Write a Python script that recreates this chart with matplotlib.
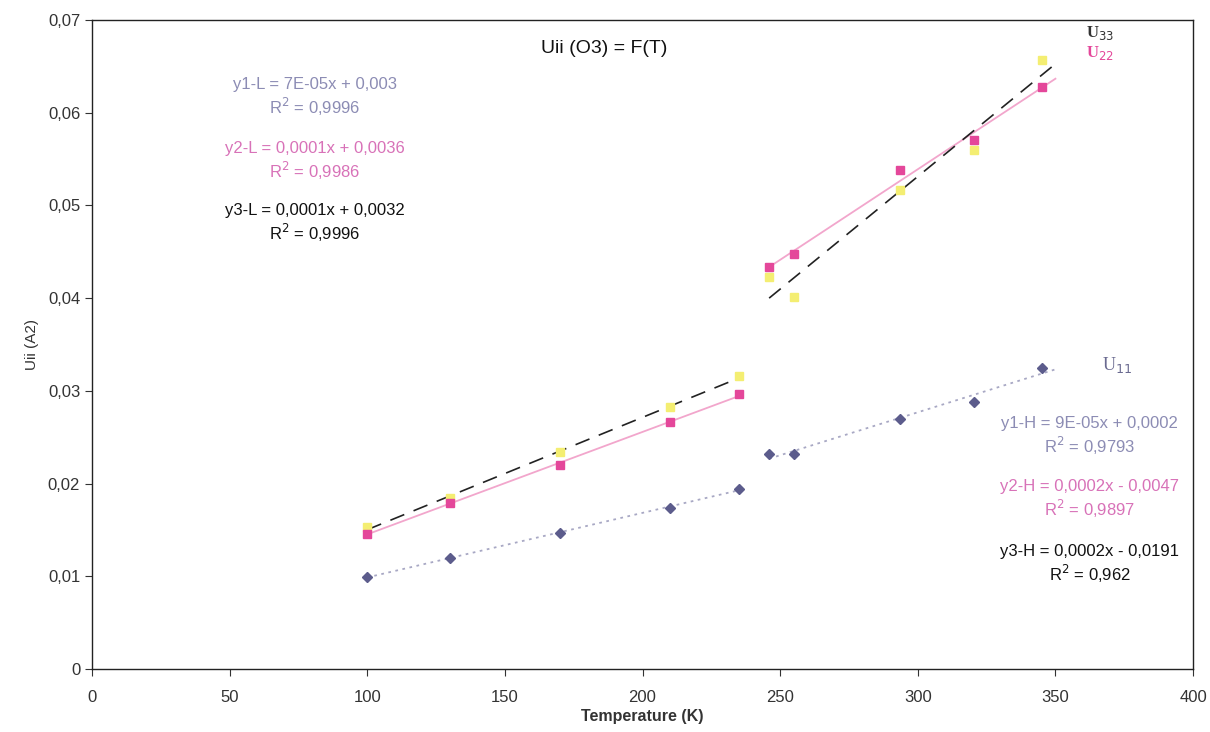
import numpy as np
import matplotlib
matplotlib.use("Agg")
import matplotlib.pyplot as plt
from matplotlib.ticker import FuncFormatter

# data (T in K, Uii in A2)
t_low = [100, 130, 170, 210, 235]
t_high = [246, 255, 293.5, 320.5, 345]
u11_low = [0.0099, 0.0120, 0.0147, 0.0174, 0.0194]
u11_high = [0.0232, 0.0232, 0.0270, 0.0288, 0.0325]
u22_low = [0.0146, 0.0179, 0.0220, 0.0266, 0.0296]
u22_high = [0.0433, 0.0447, 0.0538, 0.0570, 0.0628]
u33_low = [0.0153, 0.0184, 0.0234, 0.0282, 0.0316]
u33_high = [0.0423, 0.0401, 0.0517, 0.0560, 0.0657]

c11 = '#5c5c8c'
c22 = '#e4479a'
c33 = '#f4ee72'
l11 = '#a8a8c4'
l22 = '#f2a6cc'
eq11 = '#8c8cb4'
eq22 = '#d872b8'

plt.rcParams['font.family'] = ['Liberation Sans', 'DejaVu Sans']

fig = plt.figure(figsize=(12.1, 7.32), dpi=100)
ax = fig.add_axes([0.076, 0.086, 0.910, 0.887])


def trend(ax, x, y, x0, x1, **kw):
    p = np.polyfit(x, y, 1)
    xs = np.array([x0, x1])
    ax.plot(xs, np.polyval(p, xs), **kw)


# trendlines
trend(ax, t_low, u11_low, 100, 235, color=l11, lw=1.3, ls=(0, (1.5, 2.5)), zorder=1)
trend(ax, t_high, u11_high, 246, 350, color=l11, lw=1.3, ls=(0, (1.5, 2.5)), zorder=1)
trend(ax, t_low, u22_low, 100, 235, color=l22, lw=1.3, zorder=1)
trend(ax, t_high, u22_high, 246, 350, color=l22, lw=1.3, zorder=1)
trend(ax, t_low, u33_low, 100, 235, color='#222222', lw=1.2, ls=(0, (9, 6)), zorder=2)
trend(ax, t_high, u33_high, 246, 350, color='#222222', lw=1.2, ls=(0, (9, 6)), zorder=2)

# points
ax.plot(t_low + t_high, u33_low + u33_high, ls='none', marker='s', ms=6, color=c33, zorder=3)
ax.plot(t_low + t_high, u22_low + u22_high, ls='none', marker='s', ms=6, color=c22, zorder=4)
ax.plot(t_low + t_high, u11_low + u11_high, ls='none', marker='D', ms=5, color=c11, zorder=4)

ax.set_xlim(0, 400)
ax.set_ylim(0, 0.07)
ax.set_xticks(np.arange(0, 401, 50))
ax.set_yticks(np.arange(0, 0.0701, 0.01))
ax.yaxis.set_major_formatter(FuncFormatter(lambda v, p: '0' if v == 0 else ('%.2f' % v).replace('.', ',')))
ax.tick_params(direction='out', length=5, width=0.8, colors='#333333', labelsize=12)
ax.tick_params(axis='x', pad=10)
for s in ax.spines.values():
    s.set_color('#222222')
    s.set_linewidth(1.0)

ax.set_xlabel('Temperature (K)', fontsize=11.5, fontweight='bold', color='#333333', labelpad=3)
ax.set_ylabel('Uii (A2)', fontsize=11, color='#333333', labelpad=6)

ax.text(0.465, 0.955, 'Uii (O3) = F(T)', transform=ax.transAxes, ha='center', va='center',
        fontsize=14, color='#111111')

# equations left
ax.text(81, 0.0616, 'y1-L = 7E-05x + 0,003\nR$^2$ = 0,9996', ha='center', va='center',
        fontsize=12, color=eq11, linespacing=1.2)
ax.text(81, 0.0547, 'y2-L = 0,0001x + 0,0036\nR$^2$ = 0,9986', ha='center', va='center',
        fontsize=12, color=eq22, linespacing=1.2)
ax.text(81, 0.0480, 'y3-L = 0,0001x + 0,0032\nR$^2$ = 0,9996', ha='center', va='center',
        fontsize=12, color='#111111', linespacing=1.2)

# equations right
ax.text(362.5, 0.0251, 'y1-H = 9E-05x + 0,0002\nR$^2$ = 0,9793', ha='center', va='center',
        fontsize=12, color=eq11, linespacing=1.2)
ax.text(362.5, 0.0183, 'y2-H = 0,0002x - 0,0047\nR$^2$ = 0,9897', ha='center', va='center',
        fontsize=12, color=eq22, linespacing=1.2)
ax.text(362.5, 0.0113, 'y3-H = 0,0002x - 0,0191\nR$^2$ = 0,962', ha='center', va='center',
        fontsize=12, color='#111111', linespacing=1.2)

# series labels
ax.text(361, 0.0686, 'U$_{33}$', fontsize=12, color='#333333', family='Liberation Serif',
        fontweight='bold', va='center')
ax.text(361, 0.0664, 'U$_{22}$', fontsize=12, color=c22, family='Liberation Serif',
        fontweight='bold', va='center')
ax.text(367, 0.0328, 'U$_{11}$', fontsize=13, color='#6a6a90', family='Liberation Serif',
        va='center')

fig.savefig('out.png', dpi=100)
